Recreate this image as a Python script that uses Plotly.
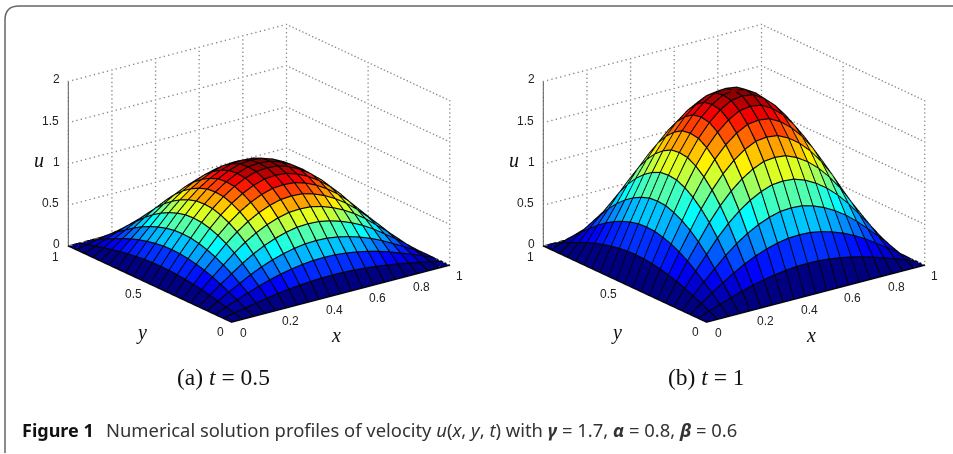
import plotly.graph_objects as go

W, H = 953, 454

# values
grid_x = [0.00, 0.05, 0.10, 0.15, 0.20, 0.25, 0.30, 0.35, 0.40, 0.45, 0.50,
          0.55, 0.60, 0.65, 0.70, 0.75, 0.80, 0.85, 0.90, 0.95, 1.00]
grid_y = list(grid_x)
profile_x = [0.00, 0.16, 0.31, 0.45, 0.59, 0.71, 0.81, 0.89, 0.95, 0.99, 1.00,
             0.99, 0.95, 0.89, 0.81, 0.71, 0.59, 0.45, 0.31, 0.16, 0.00]
profile_y = list(profile_x)
peak_a = 1.12
peak_b = 2.00

x_ticks = [0, 0.2, 0.4, 0.6, 0.8, 1]
y_ticks = [0, 0.5, 1]
z_ticks = [0, 0.5, 1, 1.5, 2]
z_tick_text = ["0", "0.5", "1", "1.5", "2"]
x_tick_text = ["0", "0.2", "0.4", "0.6", "0.8", "1"]
y_tick_text = ["0", "0.5", "1"]
panel_titles = ["(a) <i>t</i> = 0.5", "(b) <i>t</i> = 1"]

JET = [[0.0, "rgb(0,0,128)"], [0.11, "rgb(0,0,255)"], [0.365, "rgb(0,255,255)"],
       [0.62, "rgb(255,255,0)"], [0.87, "rgb(255,0,0)"], [1.0, "rgb(128,0,0)"]]
SANS = "Liberation Sans"
SERIF = "Liberation Serif"
TICK = "#222222"
LIFT = 0.006
DOTS_H = 50   # dots along a horizontal grid line
DOTS_V = 40   # dots along a vertical grid line


def surface_traces(peak, scene):
    n, m = len(grid_x), len(grid_y)
    u = [[peak * py * px for px in profile_x] for py in profile_y]
    vx, vy, vz = [], [], []
    for j in range(m):
        for i in range(n):
            vx.append(grid_x[i]); vy.append(grid_y[j]); vz.append(u[j][i])
    ii, jj, kk, cell = [], [], [], []
    for j in range(m - 1):
        for i in range(n - 1):
            a, b, c, d = j * n + i, j * n + i + 1, (j + 1) * n + i + 1, (j + 1) * n + i
            ii += [a, a]; jj += [b, c]; kk += [c, d]
            cell += [u[j][i], u[j][i]]
    mesh = go.Mesh3d(x=vx, y=vy, z=vz, i=ii, j=jj, k=kk, intensity=cell, intensitymode="cell",
                     colorscale=JET, cmin=0, cmax=peak, showscale=False, flatshading=True,
                     lighting=dict(ambient=1, diffuse=0, specular=0, fresnel=0, roughness=1),
                     hoverinfo="skip", scene=scene)
    lx, ly, lz = [], [], []
    for j in range(m):
        for i in range(n):
            lx.append(grid_x[i]); ly.append(grid_y[j]); lz.append(u[j][i] + LIFT)
        lx.append(None); ly.append(None); lz.append(None)
    for i in range(n):
        for j in range(m):
            lx.append(grid_x[i]); ly.append(grid_y[j]); lz.append(u[j][i] + LIFT)
        lx.append(None); ly.append(None); lz.append(None)
    mesh_lines = go.Scatter3d(x=lx, y=ly, z=lz, mode="lines", line=dict(color="#050505", width=2.4),
                              hoverinfo="skip", showlegend=False, scene=scene)
    return [mesh, mesh_lines]


def box_traces(scene):
    gx, gy, gz = [], [], []
    def dots(p, q, count):
        for s in range(count + 1):
            f = s / count
            gx.append(p[0] + (q[0] - p[0]) * f)
            gy.append(p[1] + (q[1] - p[1]) * f)
            gz.append(p[2] + (q[2] - p[2]) * f)
    zmax = z_ticks[-1]
    for t in x_ticks:
        dots((t, 1, 0), (t, 1, zmax), DOTS_V)
    for t in y_ticks[:-1]:
        dots((1, t, 0), (1, t, zmax), DOTS_V)
    for t in z_ticks[1:]:
        dots((0, 1, t), (1, 1, t), DOTS_H)
        dots((1, 1, t), (1, 0, t), DOTS_H)
    dotted = go.Scatter3d(x=gx, y=gy, z=gz, mode="markers",
                          marker=dict(color="#8a8a8a", size=0.7, symbol="square", line=dict(width=0)),
                          hoverinfo="skip", showlegend=False, scene=scene)
    ax, ay, az = [], [], []
    def seg2(p, q):
        ax.extend([p[0], q[0], None]); ay.extend([p[1], q[1], None]); az.extend([p[2], q[2], None])
    seg2((0, 1, 0), (0, 1, zmax))
    seg2((0, 0, 0), (1, 0, 0))
    seg2((0, 0, 0), (0, 1, 0))
    for t in z_ticks:
        seg2((0, 1, t), (-0.025, 1, t))
    for t in x_ticks:
        seg2((t, 0, 0), (t, -0.03, 0))
    for t in y_ticks:
        seg2((0, t, 0), (-0.025, t, 0))
    solid = go.Scatter3d(x=ax, y=ay, z=az, mode="lines", line=dict(color="#222222", width=1.4),
                         hoverinfo="skip", showlegend=False, scene=scene)
    return [dotted, solid]


def scene_notes():
    out = []
    def note(x, y, z, text, dx, dy, size=12, family=SANS, color=TICK):
        out.append(dict(x=x, y=y, z=z, text=text, showarrow=False, xshift=dx, yshift=dy,
                        xanchor="center", yanchor="middle", font=dict(family=family, size=size, color=color)))
    for t, s in zip(z_ticks, z_tick_text):
        note(0, 1, t, s, -10 - 3.2 * (len(s) - 1) - 1, 2)
    for t, s in zip(x_ticks, x_tick_text):
        note(t, 0, 0, s, 16 if len(s) > 1 else (12 if t == 0 else 10), -10)
    for t, s, dx, dy in zip(y_ticks, y_tick_text, [-11, -16, -12], [-9, -10, -11]):
        note(0, t, 0, s, dx, dy)
    note(0, 1, 1, "<i>u</i>", -29, 4, 20, SERIF, "#111111")
    note(0.5, 0, 0, "<i>x</i>", -4, -41, 20, SERIF, "#111111")
    note(0, 0.5, 0, "<i>y</i>", -8, -48, 20, SERIF, "#111111")
    return out


fig = go.Figure()
for tr in surface_traces(peak_a, "scene") + box_traces("scene"):
    fig.add_trace(tr)
for tr in surface_traces(peak_b, "scene2") + box_traces("scene2"):
    fig.add_trace(tr)

hidden = dict(visible=False, showgrid=False, zeroline=False, showspikes=False)
K = 1.9
ZOOM = 1.58
eye = dict(x=-0.561 * K, y=-0.750 * K, z=0.349 * K)
cam = dict(eye=eye, center=dict(x=0, y=0, z=0), up=dict(x=0, y=0, z=1), projection=dict(type="orthographic"))
CX = [258.5, 733.5]
CY = 173.5
HW, HH = 219, 172.5


def make_scene(cx):
    return dict(domain=dict(x=[(cx - HW) / W, (cx + HW) / W], y=[1 - (CY + HH) / H, 1 - (CY - HH) / H]),
                xaxis=dict(range=[0, 1], **hidden), yaxis=dict(range=[0, 1], **hidden),
                zaxis=dict(range=[0, 2], **hidden),
                aspectmode="manual", aspectratio=dict(x=ZOOM, y=ZOOM, z=0.646 * ZOOM), camera=cam,
                bgcolor="white", annotations=scene_notes(), dragmode=False)


px = lambda v: v / W
py = lambda v: 1 - v / H
frame = (f"M {px(5)},{py(453)} L {px(5)},{py(20)} Q {px(5)},{py(6)} {px(19)},{py(6)} L 1,{py(6)}")
page_notes = [
    dict(x=px(223), y=py(377), text=panel_titles[0], font=dict(family=SERIF, size=23.5, color="#111111")),
    dict(x=px(706), y=py(377), text=panel_titles[1], font=dict(family=SERIF, size=23.5, color="#111111")),
    dict(x=px(20), y=py(429.5), xanchor="left", text="<b>Figure 1</b>", font=dict(family="Noto Sans", size=18, color="#111111")),
    dict(x=px(104), y=py(429.5), xanchor="left",
         text="Numerical solution profiles of velocity <i>u</i>(<i>x</i>, <i>y</i>, <i>t</i>) with "
              "<b><i>γ</i></b> = 1.7, <b><i>α</i></b> = 0.8, <b><i>β</i></b> = 0.6",
         font=dict(family="Noto Sans", size=18.4, color="#333333")),
]
for a in page_notes:
    a.update(xref="paper", yref="paper", showarrow=False, yanchor="middle")
    a.setdefault("xanchor", "center")

fig.update_layout(width=W, height=H, autosize=False, margin=dict(l=0, r=0, t=0, b=0), paper_bgcolor="white",
                  showlegend=False, scene=make_scene(CX[0]), scene2=make_scene(CX[1]), annotations=page_notes,
                  shapes=[dict(type="path", path=frame, xref="paper", yref="paper",
                               line=dict(color="#666666", width=1.5))])
fig.write_html("out.html", config=dict(displayModeBar=False, staticPlot=False),
               post_script="document.body.style.margin='0';")
